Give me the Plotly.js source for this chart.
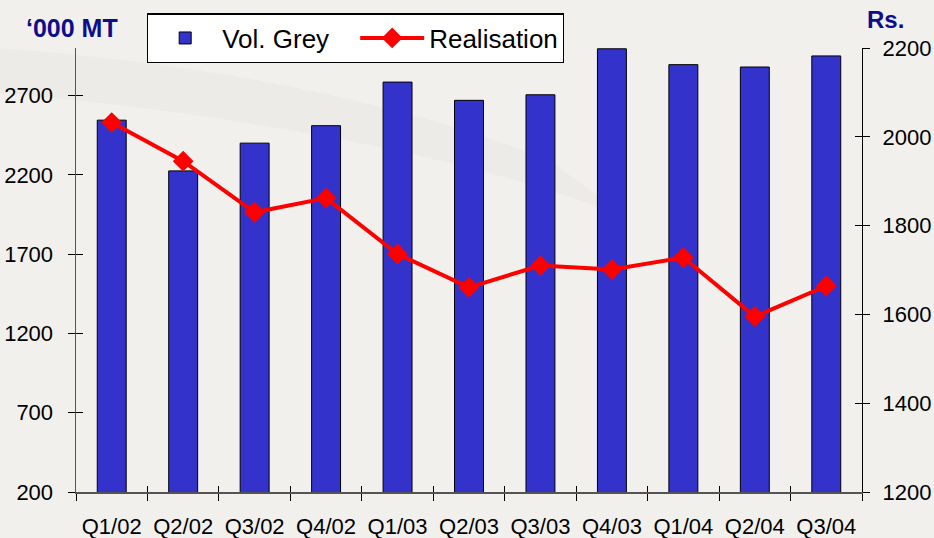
<!DOCTYPE html>
<html><head><meta charset="utf-8">
<script src="https://cdn.plot.ly/plotly-3.0.1.min.js"></script>
<style>html,body{margin:0;padding:0;background:#F2F0ED;} #chart{width:934px;height:538px;}</style>
</head><body><div id="chart"></div>
<script>
const quarters = ["Q1/02","Q2/02","Q3/02","Q4/02","Q1/03","Q2/03","Q3/03","Q4/03","Q1/04","Q2/04","Q3/04"];
const volGrey = [2545, 2225, 2400, 2510, 2785, 2670, 2705, 2995, 2895, 2880, 2950];
const realisation = [2032, 1945, 1830, 1862, 1736, 1661, 1710, 1701, 1728, 1595, 1664];
const leftTicks = [200, 700, 1200, 1700, 2200, 2700];
const rightTicks = [1200, 1400, 1600, 1800, 2000, 2200];
const leftRange = [200, 3000];
const rightRange = [1200, 2200];
const boundaryTicks = quarters.map((q, i) => i).concat([quarters.length]);

const FONT = '"Liberation Sans", Arial, sans-serif';

const traces = [
  {
    type: 'bar', name: 'Vol. Grey', x: quarters, y: volGrey, yaxis: 'y',
    marker: {color: '#3333CC', line: {color: '#000000', width: 1}},
    hoverinfo: 'skip'
  },
  {
    type: 'scatter', mode: 'lines+markers', name: 'Realisation', x: quarters, y: realisation, yaxis: 'y2',
    line: {color: '#FF0000', width: 4},
    marker: {symbol: 'diamond', size: 16, color: '#FF0000'},
    hoverinfo: 'skip'
  },
  // empty helper traces so the inner-tick overlay axes are drawn (crossing tick marks)
  {type: 'scatter', mode: 'markers', x: [], y: [], xaxis: 'x2', yaxis: 'y3', showlegend: false, hoverinfo: 'skip'},
  {type: 'scatter', mode: 'markers', x: [], y: [], xaxis: 'x2', yaxis: 'y4', showlegend: false, hoverinfo: 'skip'}
];

const layout = {
  width: 934, height: 538,
  margin: {l: 76, r: 72, t: 48, b: 46},
  paper_bgcolor: '#F2F0ED',
  plot_bgcolor: 'rgba(0,0,0,0)',
  font: {family: FONT, color: '#000000', size: 22},
  bargap: 0.595,
  showlegend: true,
  legend: {
    orientation: 'h', x: 0.0903, y: 1.078, xanchor: 'left', yanchor: 'top',
    bgcolor: '#FFFFFF', bordercolor: '#000000', borderwidth: 1.2,
    font: {family: FONT, size: 26, color: '#000000'},
    traceorder: 'normal', itemwidth: 64, entrywidth: 128, entrywidthmode: 'pixels'
  },
  xaxis: {
    type: 'category', range: [-0.5, 10.5], showgrid: false, zeroline: false,
    showline: true, linecolor: '#555555', linewidth: 1.5,
    ticks: 'outside', tickson: 'boundaries', ticklen: 7, tickcolor: '#000000', tickwidth: 1,
    ticklabelstandoff: 14,
    tickfont: {family: FONT, size: 22, color: '#000000'}
  },
  xaxis2: {
    overlaying: 'x', anchor: 'y', side: 'bottom', range: [0, quarters.length], tickvals: boundaryTicks,
    ticks: 'inside', ticklen: 6, tickcolor: '#000000', showticklabels: false,
    showline: false, showgrid: false, zeroline: false
  },
  yaxis: {
    range: leftRange, tickvals: leftTicks, showgrid: false, zeroline: false,
    showline: true, linecolor: '#555555', linewidth: 1.5,
    ticks: 'outside', ticklen: 7, tickcolor: '#000000', ticklabelstandoff: 10,
    tickfont: {family: FONT, size: 22, color: '#000000'}
  },
  yaxis3: {
    overlaying: 'y', anchor: 'x', side: 'left', range: leftRange, tickvals: leftTicks,
    ticks: 'inside', ticklen: 7, tickcolor: '#000000', showticklabels: false,
    showline: false, showgrid: false, zeroline: false
  },
  yaxis2: {
    overlaying: 'y', side: 'right', anchor: 'x', range: rightRange, tickvals: rightTicks,
    showgrid: false, zeroline: false, showline: true, linecolor: '#000000', linewidth: 1.2,
    ticks: 'outside', ticklen: 7, tickcolor: '#000000', ticklabelstandoff: 8,
    tickfont: {family: FONT, size: 22, color: '#000000'}
  },
  yaxis4: {
    overlaying: 'y', side: 'right', anchor: 'x', range: rightRange, tickvals: rightTicks,
    ticks: 'inside', ticklen: 7, tickcolor: '#000000', showticklabels: false,
    showline: false, showgrid: false, zeroline: false
  },
  annotations: [
    {text: '\u2018000 MT', xref: 'paper', yref: 'paper', x: -0.0057, y: 1.044, xanchor: 'center', yanchor: 'middle',
     showarrow: false, font: {family: FONT, size: 25, color: '#0E0E8A', weight: 'bold'}},
    {text: 'Rs.', xref: 'paper', yref: 'paper', x: 1.004, y: 1.064, xanchor: 'left', yanchor: 'middle',
     showarrow: false, font: {family: FONT, size: 24, color: '#0E0E8A', weight: 'bold'}}
  ],
  shapes: [
    {type: 'path', xref: 'paper', yref: 'paper', layer: 'below', line: {width: 0}, fillcolor: 'rgba(120,110,120,0.035)',
     path: 'M -0.1 1.0 Q 0.3 0.95 0.6 0.75 L 0.7 0.62 Q 0.4 0.82 -0.1 0.9 Z'}
  ]
};

Plotly.newPlot('chart', traces, layout, {staticPlot: true, displayModeBar: false});
</script>
</body></html>
